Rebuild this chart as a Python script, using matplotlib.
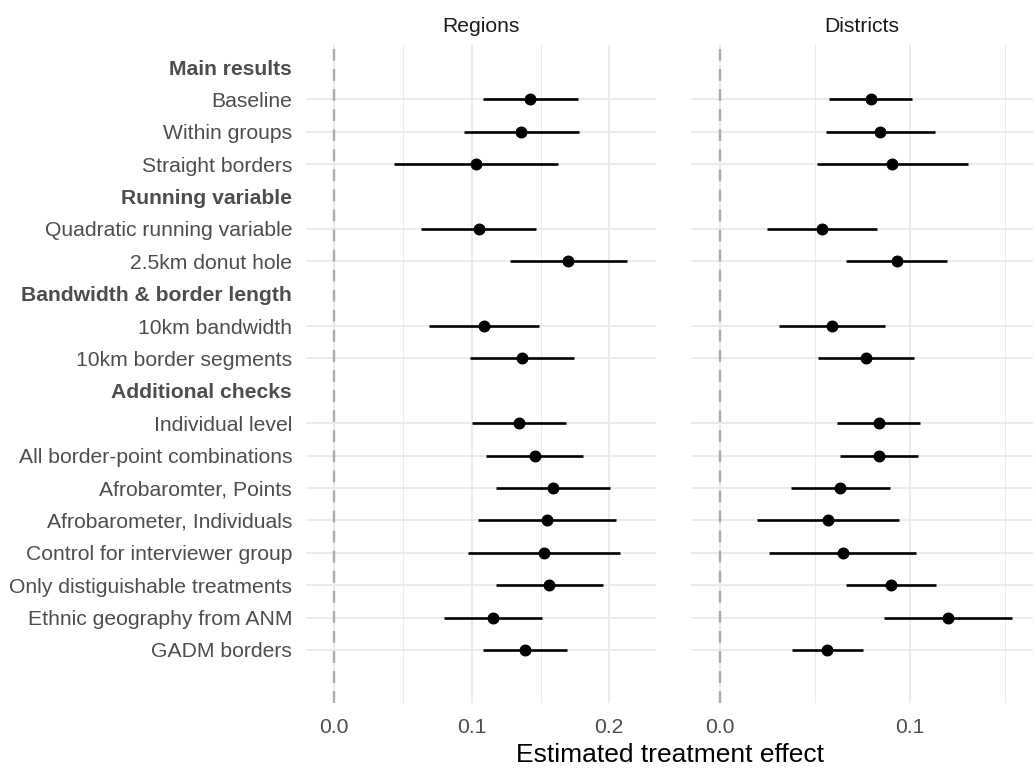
import matplotlib
matplotlib.use("Agg")
import matplotlib.pyplot as plt
import numpy as np

plt.rcParams['font.family'] = ['Liberation Sans', 'DejaVu Sans']

# Row labels (top to bottom); header rows have no estimates
labels = ["Main results", "Baseline", "Within groups", "Straight borders",
          "Running variable", "Quadratic running variable", "2.5km donut hole",
          "Bandwidth & border length", "10km bandwidth", "10km border segments",
          "Additional checks", "Individual level", "All border-point combinations",
          "Afrobaromter, Points", "Afrobarometer, Individuals",
          "Control for interviewer group", "Only distiguishable treatments",
          "Ethnic geography from ANM", "GADM borders"]
is_header = [True, False, False, False, True, False, False, True, False, False,
             True, False, False, False, False, False, False, False, False]

nan = np.nan
regions_est = [nan, 0.1424, 0.1359, 0.1031, nan, 0.1051, 0.1703, nan, 0.1090, 0.1364,
               nan, 0.1340, 0.1458, 0.1592, 0.1546, 0.1526, 0.1565, 0.1155, 0.1386]
regions_lo = [nan, 0.1080, 0.0944, 0.0437, nan, 0.0633, 0.1281, nan, 0.0692, 0.0990,
              nan, 0.1002, 0.1101, 0.1174, 0.1048, 0.0973, 0.1177, 0.0801, 0.1082]
regions_hi = [nan, 0.1774, 0.1778, 0.1628, nan, 0.1468, 0.2128, nan, 0.1490, 0.1742,
              nan, 0.1682, 0.1812, 0.2002, 0.2048, 0.2077, 0.1956, 0.1512, 0.1689]

districts_est = [nan, 0.0793, 0.0844, 0.0905, nan, 0.0539, 0.0930, nan, 0.0591, 0.0768,
                 nan, 0.0835, 0.0835, 0.0633, 0.0567, 0.0646, 0.0898, 0.1200, 0.0565]
districts_lo = [nan, 0.0574, 0.0558, 0.0509, nan, 0.0249, 0.0665, nan, 0.0312, 0.0516,
                nan, 0.0618, 0.0633, 0.0372, 0.0193, 0.0260, 0.0661, 0.0865, 0.0379]
districts_hi = [nan, 0.1012, 0.1133, 0.1304, nan, 0.0828, 0.1195, nan, 0.0868, 0.1023,
                nan, 0.1051, 0.1040, 0.0893, 0.0942, 0.1033, 0.1135, 0.1537, 0.0751]

panels = [("Regions", regions_est, regions_lo, regions_hi, (-0.0206, 0.234),
           [0.0, 0.1, 0.2], [0.05, 0.15]),
          ("Districts", districts_est, districts_lo, districts_hi, (-0.0153, 0.1647),
           [0.0, 0.1], [0.05, 0.15])]

W, H = 1033, 769
fig = plt.figure(figsize=(W / 100, H / 100), dpi=100)
top_px, bot_px = 45, 703
rects = [(306, 656), (691, 1033)]

grid_col = "#EBEBEB"
text_col = "#4D4D4D"
ypos = np.arange(len(labels))
fs = 15.2

for i, (title, est, lo, hi, xlim, majors, minors) in enumerate(panels):
    l, r = rects[i]
    ax = fig.add_axes([l / W, 1 - bot_px / H, (r - l) / W, (bot_px - top_px) / H])
    ax.set_xlim(*xlim)
    ax.set_ylim(18 + 1.64, -0.68)
    for s in ax.spines.values():
        s.set_visible(False)
    # grid
    for m in majors:
        ax.axvline(m, color=grid_col, lw=1.4, zorder=0)
    for m in minors:
        ax.axvline(m, color=grid_col, lw=0.7, zorder=0)
    for y, h in zip(ypos, is_header):
        if not h:
            ax.axhline(y, color=grid_col, lw=1.4, zorder=0)
    ax.axvline(0, color="#ABABAB", lw=1.7, ls=(0, (5, 3.5)), zorder=1)
    est = np.array(est); lo = np.array(lo); hi = np.array(hi)
    ax.hlines(ypos, lo, hi, color="black", lw=1.9, zorder=2)
    ax.plot(est, ypos, "o", color="black", ms=7.6, zorder=3)
    ax.set_xticks(majors)
    ax.set_xticklabels([f"{m:.1f}" for m in majors], color=text_col, fontsize=fs)
    ax.tick_params(axis="x", length=0, pad=11)
    ax.set_title(title, fontsize=fs, color="#1A1A1A", pad=9.5)
    if i == 0:
        ax.set_yticks(ypos)
        ax.set_yticklabels(labels, fontsize=fs, color=text_col)
        for t, h in zip(ax.get_yticklabels(), is_header):
            if h:
                t.set_fontweight("bold")
        ax.tick_params(axis="y", length=0, pad=10)
    else:
        ax.set_yticks([])

fig.text((306 + 1033) / 2 / W, 1 - 755 / H, "Estimated treatment effect",
         ha="center", va="center", fontsize=19, color="black")

fig.savefig("out.png", dpi=100, facecolor="white")
